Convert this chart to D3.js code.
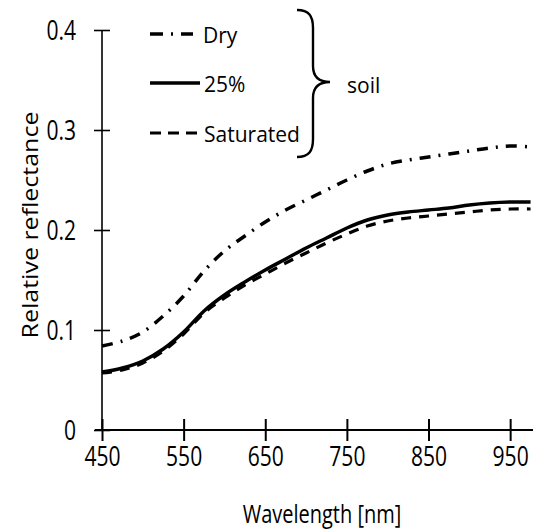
<!DOCTYPE html>
<html>
<head>
<meta charset="utf-8">
<script src="https://cdn.jsdelivr.net/npm/d3@7"></script>
<style>
  body { margin: 0; background: #fff; }
  text { font-family: "Open Sans", sans-serif; fill: #000; }
</style>
</head>
<body>
<script>
// data
var wavelength = [450, 475, 500, 525, 550, 575, 600, 625, 650, 675, 700, 725, 750, 775, 800, 825, 850, 875, 900, 925, 950, 975];
var dry       = [0.084, 0.089, 0.098, 0.114, 0.134, 0.159, 0.179, 0.194, 0.208, 0.220, 0.230, 0.240, 0.250, 0.259, 0.266, 0.270, 0.273, 0.276, 0.279, 0.282, 0.284, 0.283];
var pct25     = [0.058, 0.062, 0.069, 0.081, 0.098, 0.119, 0.135, 0.148, 0.160, 0.171, 0.182, 0.192, 0.202, 0.210, 0.215, 0.218, 0.220, 0.222, 0.225, 0.227, 0.228, 0.228];
var saturated = [0.057, 0.060, 0.067, 0.079, 0.096, 0.117, 0.132, 0.145, 0.156, 0.167, 0.177, 0.187, 0.196, 0.204, 0.209, 0.212, 0.214, 0.216, 0.218, 0.220, 0.221, 0.221];

var seriesNames = ["Dry", "25%", "Saturated"];
var xTicks = [450, 550, 650, 750, 850, 950];
var yTicks = [0, 0.1, 0.2, 0.3, 0.4];
var yTickLabels = ["0", "0.1", "0.2", "0.3", "0.4"];

// dimensions
var W = 533, H = 531;
var margin = {top: 30, right: 0, bottom: 101, left: 102},
    width = W - margin.left - margin.right,
    height = H - margin.top - margin.bottom;

var squeeze = 0.78; // the labels in the reference are horizontally narrow

var svg = d3.select("body").append("svg")
    .attr("width", W)
    .attr("height", H);

var g = svg.append("g")
    .attr("transform", "translate(" + margin.left + "," + margin.top + ")");

var x = d3.scaleLinear().domain([450, 978]).range([0, width]);
var y = d3.scaleLinear().domain([0, 0.4]).range([height, 0]);

// line styles
var styles = [
  {dash: "11,8,2,8", width: 3.5},
  {dash: null, width: 3.5},
  {dash: "10,8", width: 3.2}
];
var series = [dry, pct25, saturated];

var line = d3.line()
    .x(function(d, i) { return x(wavelength[i]); })
    .y(function(d) { return y(d); })
    .curve(d3.curveCatmullRom);

// curves (dashed ones drawn last so they sit on top)
[1, 2, 0].forEach(function(k) {
  g.append("path")
    .datum(series[k])
    .attr("fill", "none")
    .attr("stroke", "#000")
    .attr("stroke-width", styles[k].width)
    .attr("stroke-dasharray", styles[k].dash)
    .attr("d", line);
});

// y axis
var yAxis = g.append("g").call(d3.axisLeft(y).tickValues(yTicks).tickSize(0).tickFormat(""));
yAxis.select(".domain").remove();
yAxis.append("line")
    .attr("x1", 0).attr("x2", 0)
    .attr("y1", y(0.4)).attr("y2", y(0))
    .attr("stroke", "#000").attr("stroke-width", 1.6);
yAxis.selectAll(".tick line")
    .attr("x1", -8).attr("x2", 8)
    .attr("stroke", "#000").attr("stroke-width", 1.6);
yAxis.selectAll(".tick").append("text")
    .attr("transform", "translate(-26,0) scale(" + squeeze + ",1)")
    .attr("text-anchor", "end")
    .attr("dy", "0.36em")
    .style("font-size", "27px")
    .text(function(d, i) { return yTickLabels[i]; });

// x axis
var xAxis = g.append("g")
    .attr("transform", "translate(0," + height + ")")
    .call(d3.axisBottom(x).tickValues(xTicks).tickSize(0).tickFormat(""));
xAxis.select(".domain").remove();
xAxis.append("line")
    .attr("x1", -7).attr("x2", width)
    .attr("y1", 0).attr("y2", 0)
    .attr("stroke", "#000").attr("stroke-width", 2.2);
xAxis.selectAll(".tick line")
    .attr("y1", -11).attr("y2", 11)
    .attr("stroke", "#000").attr("stroke-width", 2);
xAxis.selectAll(".tick").append("text")
    .attr("transform", "translate(0,36) scale(" + squeeze + ",1)")
    .attr("text-anchor", "middle")
    .style("font-size", "27px")
    .text(function(d) { return d; });

// axis titles
svg.append("text")
    .attr("transform", "translate(322,523) scale(0.8,1)")
    .attr("text-anchor", "middle")
    .style("font-size", "25px")
    .text("Wavelength [nm]");

svg.append("text")
    .attr("transform", "translate(38,225) rotate(-90) scale(1,0.86)")
    .attr("text-anchor", "middle")
    .style("font-size", "25px")
    .text("Relative reflectance");

// legend
var legendY = [34, 83, 133];
var legend = svg.append("g");
seriesNames.forEach(function(name, k) {
  legend.append("line")
    .attr("x1", 150).attr("x2", k === 0 ? 193 : 200)
    .attr("y1", legendY[k]).attr("y2", legendY[k])
    .attr("stroke", "#000")
    .attr("stroke-width", styles[k].width)
    .attr("stroke-dasharray", k === 0 ? "13,8,2,8" : (k === 2 ? "11,7" : null));
  legend.append("text")
    .attr("x", k === 0 ? 203 : 204)
    .attr("y", legendY[k] + 9)
    .style("font-size", "21px")
    .text(name);
});

// brace grouping the three soil curves
legend.append("path")
    .attr("fill", "none")
    .attr("stroke", "#000")
    .attr("stroke-width", 2.4)
    .attr("d", "M297,10 C309,10 313,16 313,28 L313,66 C313,77 319,82 330,82 C319,82 313,87 313,98 L313,139 C313,151 309,157 297,157");

legend.append("text")
    .attr("x", 347)
    .attr("y", 93)
    .style("font-size", "21px")
    .text("soil");
</script>
</body>
</html>
